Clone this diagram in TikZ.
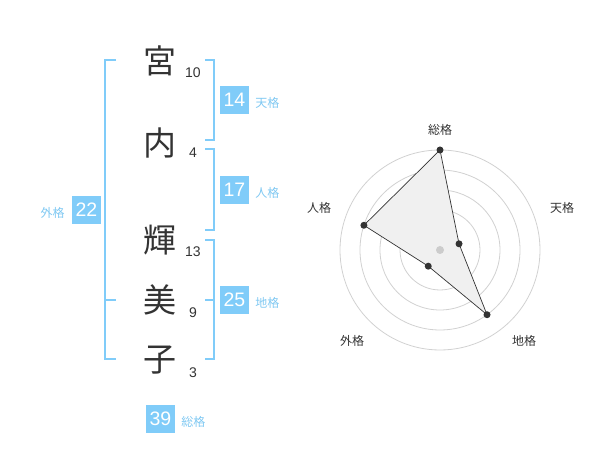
\documentclass[tikz,border=0pt]{standalone}
\usepackage{fontspec}
\setmainfont{Liberation Sans}
\newfontfamily\jp{Noto Sans CJK JP}
\usetikzlibrary{positioning}
\definecolor{kakublue}{HTML}{80CCF9}
\definecolor{kakutext}{HTML}{7FC8F2}
\definecolor{ink}{HTML}{333333}
\tikzset{
	kanji/.style={font=\jp\fontsize{33}{33}\selectfont, text=ink, inner sep=0pt},
	strokes/.style={font=\fontsize{14}{14}\selectfont, text=ink, inner sep=0pt},
	kakubox/.style={fill=kakublue, text=white, minimum width=29pt, minimum height=28pt, inner sep=0pt, font=\fontsize{19.5}{19.5}\selectfont},
	kakuname/.style={font=\jp\fontsize{12}{12}\selectfont, text=kakutext, inner sep=0pt},
	bracket/.style={draw=kakublue, line width=2pt},
	ring/.style={draw=black!18, line width=0.8pt},
	axislabel/.style={font=\jp\fontsize{12}{12}\selectfont, text=ink, inner sep=0pt},
	dot/.style={circle, fill=ink, inner sep=0pt, minimum size=7pt},
}

\begin{document}
\begin{tikzpicture}[x=1pt,y=1pt]
	\useasboundingbox (0,0) rectangle (600,470);
	% name and strokes
	\node[kanji] (c1) at (160,409) {宮};
	\node[kanji] (c2) at (160,327) {内};
	\node[kanji] (c3) at (160,230) {輝};
	\node[kanji] (c4) at (160,170) {美};
	\node[kanji] (c5) at (160,110) {子};
	\node[strokes] (s1) at (193,397) {10};
	\node[strokes] (s2) at (193,317) {4};
	\node[strokes] (s3) at (193,218) {13};
	\node[strokes] (s4) at (193,157) {9};
	\node[strokes] (s5) at (193,97) {3};
	%%%%%%%%%%
	\coordinate (g1) at (105,410);
	\coordinate (g2) at (105,111);
	\coordinate (g3) at (105,170);
	\coordinate (t1) at (214,410);
	\coordinate (t2) at (214,330);
	\coordinate (j1) at (214,321);
	\coordinate (j2) at (214,240);
	\coordinate (d1) at (214,230);
	\coordinate (d2) at (214,111);
	\coordinate (d3) at (214,170);
	\draw[bracket] ([xshift=11pt]g1) -- (g1) -- (g2) -- ([xshift=11pt]g2);
	\draw[bracket] (g3) -- ([xshift=11pt]g3);
	\draw[bracket] ([xshift=-9pt]t1) -- (t1) -- (t2) -- ([xshift=-9pt]t2);
	\draw[bracket] ([xshift=-9pt]j1) -- (j1) -- (j2) -- ([xshift=-9pt]j2);
	\draw[bracket] ([xshift=-9pt]d1) -- (d1) -- (d2) -- ([xshift=-9pt]d2);
	\draw[bracket] (d3) -- ([xshift=-9pt]d3);
	%%%%%%%%%%
	\node[kakubox] (k1) at (234.5,370) {14};
	\node[kakubox] (k2) at (234.5,280) {17};
	\node[kakubox] (k3) at (86.5,260) {22};
	\node[kakubox] (k4) at (234.5,170) {25};
	\node[kakubox] (k5) at (160.5,51) {39};
	\node[kakuname, right=6pt of k1, yshift=-3pt] (n1) {天格};
	\node[kakuname, right=6pt of k2, yshift=-3pt] (n2) {人格};
	\node[kakuname, left=7pt of k3, yshift=-3pt] (n3) {外格};
	\node[kakuname, right=6pt of k4, yshift=-3pt] (n4) {地格};
	\node[kakuname, right=6pt of k5, yshift=-3pt] (n5) {総格};
	% radar
	\coordinate (o) at (440,220);
	\foreach \r in {20,40,...,100} \draw[ring] (o) circle (\r);
	\path (o) ++(90:100) coordinate (p1);
	\path (o) ++(18:20) coordinate (p2);
	\path (o) ++(-54:80) coordinate (p3);
	\path (o) ++(234:20) coordinate (p4);
	\path (o) ++(162:80) coordinate (p5);
	\filldraw[fill=black!6, draw=ink, line width=0.7pt] (p1) -- (p2) -- (p3) -- (p4) -- (p5) -- cycle;
	\fill[black!20] (o) circle (4);
	\foreach \i in {1,...,5} \node[dot] at (p\i) {};
	\node[axislabel] (a1) at (440,340) {総格};
	\node[axislabel] (a2) at (562,262) {天格};
	\node[axislabel] (a3) at (524,129) {地格};
	\node[axislabel] (a4) at (352,129) {外格};
	\node[axislabel] (a5) at (319,262) {人格};
\end{tikzpicture}
\end{document}
